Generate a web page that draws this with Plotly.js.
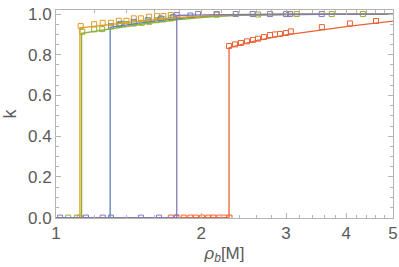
<!DOCTYPE html>
<html><head><meta charset="utf-8">
<script src="https://cdn.plot.ly/plotly-3.0.1.min.js"></script>
<style>html,body{margin:0;padding:0;background:#fff}#chart{width:399px;height:267px}</style>
</head><body><div id="chart"></div>
<script>
// ---- data ----
var orangeLineX = [1, 1.121, 1.121, 1.2, 1.3, 1.4, 1.5, 1.6, 1.7, 1.8, 2.0, 2.5, 3.0, 5.0];
var orangeLineK = [0, 0, 0.932, 0.94, 0.95, 0.958, 0.966, 0.973, 0.979, 0.984, 0.99, 0.997, 0.999, 1.0];
var greenLineX = [1, 1.13, 1.13, 1.2, 1.3, 1.4, 1.5, 1.6, 1.7, 1.8, 2.0, 2.2, 2.5, 3.0, 4.0, 5.0];
var greenLineK = [0, 0, 0.905, 0.915, 0.928, 0.94, 0.95, 0.958, 0.966, 0.973, 0.983, 0.99, 0.995, 0.998, 1.0, 1.0];
var blueLineX = [1, 1.295, 1.295, 1.4, 1.5, 1.6, 1.7, 1.8, 2.0, 2.5, 3.0, 5.0];
var blueLineK = [0, 0, 0.935, 0.948, 0.957, 0.965, 0.972, 0.978, 0.987, 0.996, 0.999, 1.0];
var purpleLineX = [1, 1.78, 1.78, 2.0, 2.5, 3.0, 5.0];
var purpleLineK = [0, 0, 0.993, 0.996, 0.998, 0.999, 1.0];
var redLineX = [1, 2.285, 2.285, 2.6, 3.0, 3.5, 4.0, 4.5, 5.0];
var redLineK = [0, 0, 0.835, 0.869, 0.898, 0.921, 0.938, 0.953, 0.965];

var orangePtsX = [1.12, 1.125, 1.2, 1.25, 1.3, 1.35, 1.4, 1.45, 1.5, 1.56, 1.62, 1.67, 1.73];
var orangePtsK = [0, 0.941, 0.95, 0.957, 0.957, 0.967, 0.967, 0.979, 0.979, 0.987, 0.99, 0.99, 0.995];
var greenPtsX = [1.06, 1.105, 1.134, 1.2, 1.247, 1.351, 1.40, 1.451, 1.506, 1.561, 1.618, 1.669, 1.732, 2.154, 2.624, 3.157, 3.731, 4.33];
var greenPtsK = [0, 0, 0.913, 0.925, 0.926, 0.946, 0.951, 0.954, 0.957, 0.962, 0.97, 0.974, 0.979, 0.997, 0.998, 1.0, 1.0, 1.0];
var bluePtsX = [1.154, 1.30, 1.30, 1.36, 1.45, 1.55, 1.65, 1.75, 1.9];
var bluePtsK = [0, 0, 0.94, 0.952, 0.962, 0.97, 0.978, 0.985, 0.993];
var purplePtsX = [1.02, 1.25, 1.5, 1.635, 1.78, 1.78, 1.97, 2.154, 2.359, 2.558, 2.779, 3.0, 3.057, 3.557];
var purplePtsK = [0, 0, 0, 0, 0, 0.995, 1.0, 1.0, 1.0, 1.0, 1.0, 1.0, 1.0, 1.0];
var redPtsX = [1.73, 1.78, 1.84, 1.90, 1.95, 2.01, 2.07, 2.12, 2.18, 2.23, 2.29,
               2.285, 2.351, 2.419, 2.49, 2.562, 2.624, 2.70, 2.779, 2.846, 2.915, 3.0, 3.07, 3.56, 4.07, 4.61];
var redPtsK = [0, 0, 0, 0, 0, 0, 0, 0, 0, 0, 0,
               0.843, 0.851, 0.858, 0.866, 0.873, 0.879, 0.887, 0.897, 0.90, 0.902, 0.907, 0.915, 0.936, 0.954, 0.966];

var xTickVals = [1, 2, 3, 4, 5];
var xTickText = ['1', '2', '3', '4', '5'];
var xMinorVals = [1.2, 1.4, 1.6, 1.8, 2.2, 2.4, 2.6, 2.8, 3.2, 3.4, 3.6, 3.8, 4.2, 4.4, 4.6, 4.8];
var yTickVals = [0, 0.2, 0.4, 0.6, 0.8, 1.0];
var yTickText = ['0.0', '0.2', '0.4', '0.6', '0.8', '1.0'];

// ---- styling ----
var C = {blue:'#5E81B5', orange:'#E19C24', green:'#8FB032', red:'#EB6235', purple:'#8778B3'};
function line(x, y, c){ return {x:x, y:y, mode:'lines', type:'scatter', line:{color:c, width:1.3}, hoverinfo:'skip'}; }
function pts(x, y, c){ return {x:x, y:y, mode:'markers', type:'scatter', marker:{symbol:'square-open', size:5, color:c, line:{width:1, color:c}}, hoverinfo:'skip'}; }

var data = [
  pts(orangePtsX, orangePtsK, C.orange),
  pts(greenPtsX, greenPtsK, C.green),
  pts(bluePtsX, bluePtsK, C.blue),
  pts(redPtsX, redPtsK, C.red),
  pts(purplePtsX, purplePtsK, C.purple),
  line(blueLineX, blueLineK, C.blue),
  line(orangeLineX, orangeLineK, C.orange),
  line(greenLineX, greenLineK, C.green),
  line(redLineX, redLineK, C.red),
  line(purpleLineX, purpleLineK, C.purple)
];

var frame = '#b4b4b4';
var txt = '#5a5a5a';
var layout = {
  width: 399, height: 267,
  margin: {l: 56, r: 6, t: 10, b: 49},
  paper_bgcolor: '#fff', plot_bgcolor: '#fff',
  showlegend: false,
  font: {family: 'Liberation Sans, Arial, sans-serif', color: txt, size: 17},
  xaxis: {
    type: 'log', range: [0, Math.log10(5)],
    tickmode: 'array', tickvals: xTickVals, ticktext: xTickText,
    ticks: 'inside', ticklen: 5, tickcolor: frame, tickwidth: 1,
    minor: {tickmode: 'array', tickvals: xMinorVals, ticks: 'inside', ticklen: 3, tickcolor: frame},
    showline: true, linecolor: frame, linewidth: 1, mirror: 'ticks',
    showgrid: false, zeroline: false,
    tickfont: {size: 17, color: txt},
    title: {text: '<i>ρ</i><sub><i>b</i></sub>[M]', font: {size: 17, color: txt}, standoff: 4}
  },
  yaxis: {
    range: [-0.002, 1.02],
    tickmode: 'array', tickvals: yTickVals, ticktext: yTickText,
    ticks: 'inside', ticklen: 5, tickcolor: frame, tickwidth: 1,
    minor: {dtick: 0.05, tick0: 0, ticks: 'inside', ticklen: 3, tickcolor: frame},
    showline: true, linecolor: frame, linewidth: 1, mirror: 'ticks',
    showgrid: false, zeroline: false,
    tickfont: {size: 17, color: txt},
    title: {text: 'k', font: {size: 18, color: txt}, standoff: 6}
  }
};
Plotly.newPlot('chart', data, layout, {staticPlot: true, displayModeBar: false});
</script>
</body></html>
